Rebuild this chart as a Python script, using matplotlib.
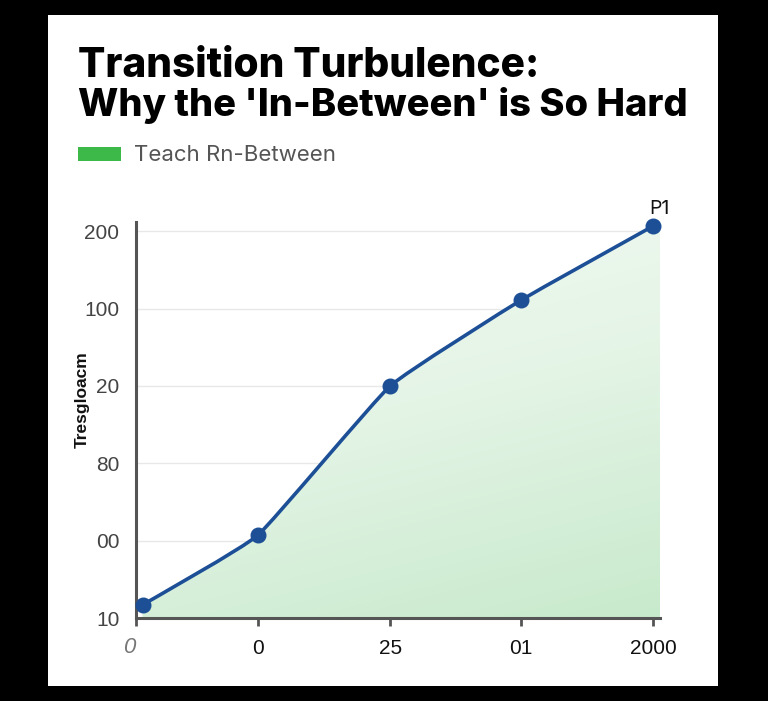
import numpy as np
import matplotlib
matplotlib.use("Agg")
import matplotlib.pyplot as plt
from matplotlib.patches import Rectangle, PathPatch
from matplotlib.path import Path
from matplotlib.colors import LinearSegmentedColormap

# ---- data ----
title_lines = ["Transition Turbulence:", "Why the 'In-Between' is So Hard"]
legend_label = "Teach Rn-Between"
y_label = "Tresgloacm"
x_tick_pos = [0.0, 0.93, 1.94, 2.94, 3.95]
x_tick_labels = ["0", "0", "25", "01", "2000"]
y_tick_pos = [0, 1, 2, 3, 4, 5]
y_tick_labels = ["10", "00", "80", "20", "100", "200"]
x_vals = [0.05, 0.93, 1.94, 2.94, 3.95]
y_vals = [0.17, 1.07, 3.0, 4.11, 5.07]
point_label = "P1"

plt.rcParams['font.family'] = ['Inter', 'DejaVu Sans']

W, H = 768, 701
fig = plt.figure(figsize=(W/100, H/100), dpi=100, facecolor='black')
bg = fig.add_axes([48/W, 1-686/H, (718-48)/W, (686-15)/H])
bg.set_facecolor('white')
bg.set_xticks([]); bg.set_yticks([])
for s in bg.spines.values():
    s.set_visible(False)
bg.set_zorder(0)

ax = fig.add_axes([136/W, 1-618/H, (660-136)/W, (618-222)/H])
ax.set_zorder(2)
ax.set_facecolor('none')
XMAX, YMAX = 4.0, 5.12

# smooth path through the points (Catmull-Rom -> cubic Bezier)
P = np.column_stack([x_vals, y_vals])
n = len(P)
tension = 0.35
verts = [P[0]]
codes = [Path.MOVETO]
for i in range(n - 1):
    p0 = P[i - 1] if i > 0 else P[i]
    p1, p2 = P[i], P[i + 1]
    p3 = P[i + 2] if i + 2 < n else P[i + 1]
    c1 = p1 + (p2 - p0) / 6 * tension
    c2 = p2 - (p3 - p1) / 6 * tension
    verts += [c1, c2, p2]
    codes += [Path.CURVE4] * 3
line_path = Path(verts, codes)
ax.add_patch(PathPatch(line_path, facecolor='none', edgecolor='#1d4f96',
                       lw=2.6, zorder=3, capstyle='round'))

fill_verts = verts + [[XMAX, y_vals[-1]], [XMAX, 0], [x_vals[0], 0], [x_vals[0], y_vals[0]]]
fill_codes = codes + [Path.LINETO] * 3 + [Path.CLOSEPOLY]
fill_patch = PathPatch(Path(fill_verts, fill_codes), facecolor='none', edgecolor='none')
ax.add_patch(fill_patch)

cmap = LinearSegmentedColormap.from_list('g', ['#f4faf4', '#e3f4e5', '#c8eacc'])
gy, gx = np.mgrid[0:1:200j, 0:1:200j]
grad = 0.75 * gy + 0.25 * gx
im = ax.imshow(grad, extent=[0, XMAX, 0, YMAX], origin='upper', cmap=cmap,
               aspect='auto', zorder=1, vmin=0, vmax=1)
im.set_clip_path(fill_patch)
ax.set_xlim(0, XMAX)
ax.set_ylim(0, YMAX)

ax.plot(x_vals, y_vals, linestyle='none', color='#1d4f96', marker='o',
        markersize=10.5, zorder=4, clip_on=False)
ax.annotate(point_label, (x_vals[-1], y_vals[-1]), xytext=(4, 6),
            textcoords='offset points', ha='center', va='bottom',
            fontsize=14, color='#111111')

ax.set_yticks(y_tick_pos)
ax.set_yticklabels(y_tick_labels, fontsize=15, color='#444444',
                   family=['Liberation Sans', 'DejaVu Sans'])
ax.set_xticks(x_tick_pos)
ax.set_xticklabels([""] + x_tick_labels[1:], fontsize=15, color='#111111',
                   family=['Liberation Sans', 'DejaVu Sans'])
# first x label sits a little left of the spine, grey italic
ax.annotate(x_tick_labels[0], (x_tick_pos[0], 0), xycoords=('data', 'axes fraction'),
            xytext=(-5, -21), textcoords='offset points', ha='center', va='center',
            fontsize=16, fontstyle='italic', color='#777777',
            family=['Liberation Sans', 'DejaVu Sans'], annotation_clip=False)
ax.tick_params(axis='y', length=0, pad=12)
ax.tick_params(axis='x', length=6, width=2, color='#555555', pad=9)
ax.grid(axis='y', color='#e8e8e8', lw=1)
ax.set_axisbelow(True)
for s in ['top', 'right']:
    ax.spines[s].set_visible(False)
for s in ['left', 'bottom']:
    ax.spines[s].set_color('#555555')
    ax.spines[s].set_linewidth(2.2)

fig.text(82/W, 1-400/H, y_label, rotation=90, ha='center', va='center',
         fontsize=12.5, fontweight='semibold', color='#111111',
         family=['Liberation Sans', 'DejaVu Sans'])

# title: two lines, each fitted to its measured width
renderer = fig.canvas.get_renderer()
targets = [(462, 77), (609, 116)]
for line, (tw, base) in zip(title_lines, targets):
    t = fig.text(78/W, 1-base/H, line, ha='left', va='baseline', fontsize=29,
                 fontweight='heavy', color='black')
    w = t.get_window_extent(renderer).width
    t.set_fontsize(29 * tw / w)

fig.patches.append(Rectangle((78/W, 1-161/H), 43/W, 14/H,
                             transform=fig.transFigure, facecolor='#3db94a',
                             edgecolor='none', zorder=3))
fig.text(134/W, 1-155/H, legend_label, ha='left', va='center',
         fontsize=16, color='#555555')

fig.savefig('out.png', dpi=100, facecolor='black')
